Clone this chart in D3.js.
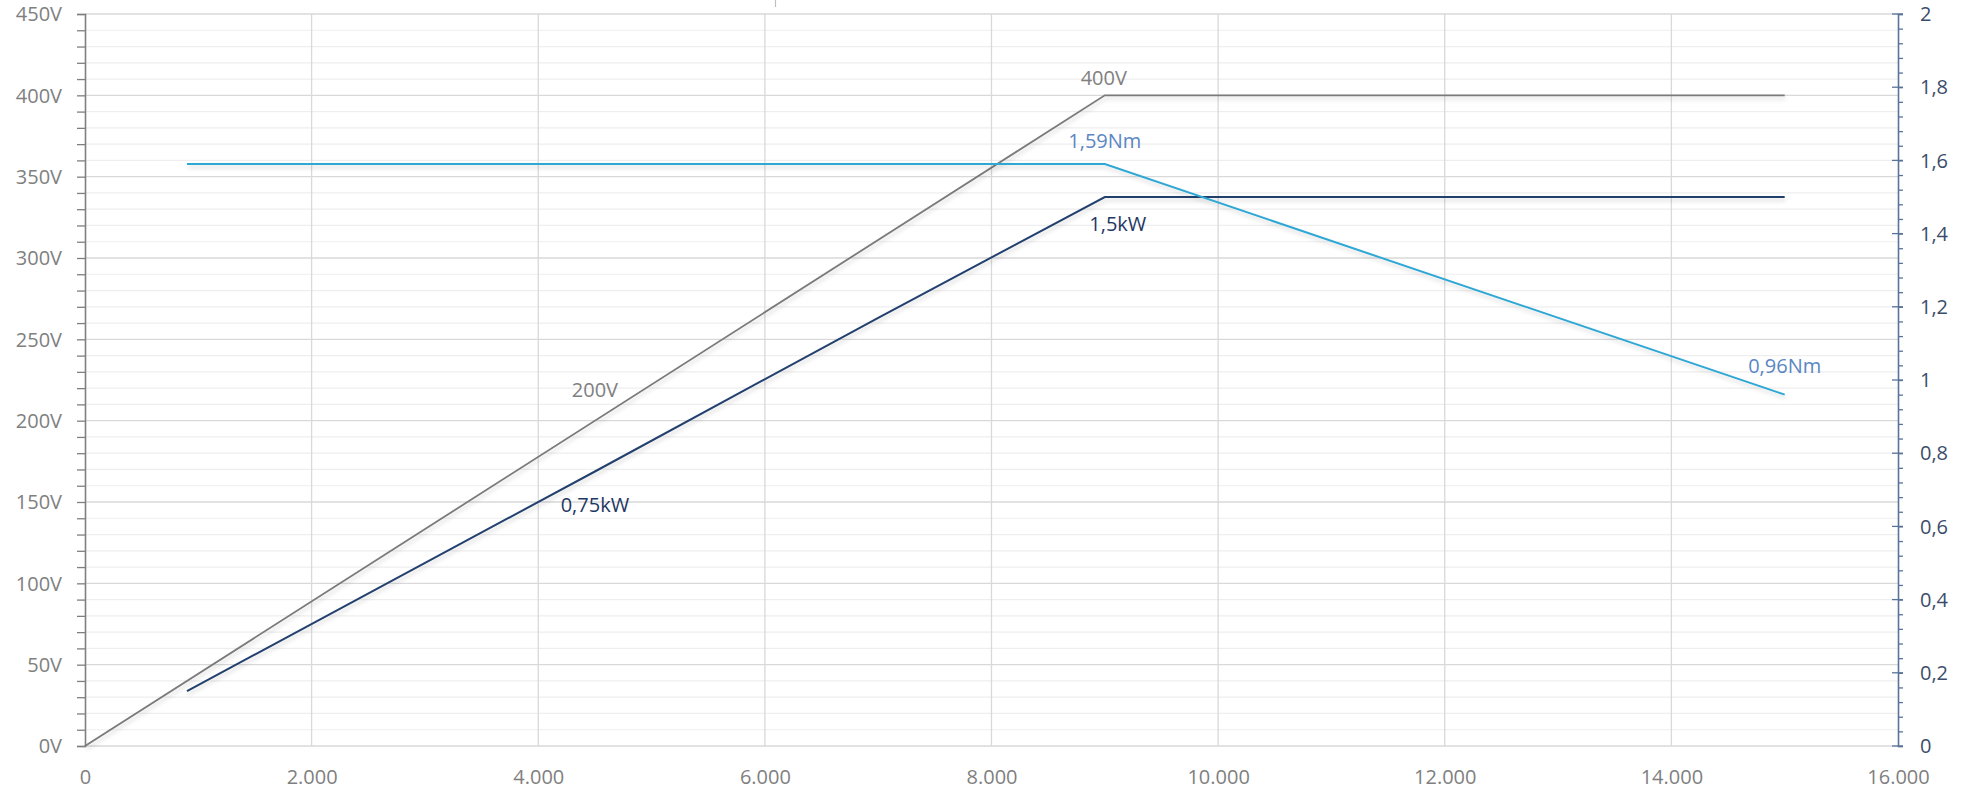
<!DOCTYPE html>
<html><head><meta charset="utf-8">
<script src="https://cdn.jsdelivr.net/npm/d3@7/dist/d3.min.js"></script>
<style>
html,body{margin:0;padding:0;background:#fff;}
svg{display:block;}
text{font-family:"Open Sans","Noto Sans",sans-serif;}
</style></head>
<body>
<svg id="chart" width="1966" height="795"></svg>
<script>
// ---- data ----
const speedTicks = [0, 2000, 4000, 6000, 8000, 10000, 12000, 14000, 16000];
const voltTicks = [0, 50, 100, 150, 200, 250, 300, 350, 400, 450];
const rightTicks = [0, 0.2, 0.4, 0.6, 0.8, 1, 1.2, 1.4, 1.6, 1.8, 2];

const voltageSpeed = [0, 9000, 15000];
const voltageValue = [0, 400, 400];

const powerSpeed = [900, 4500, 7000, 9000, 15000];
const powerValue = [0.15, 0.75, 1.17, 1.5, 1.5];

const torqueSpeed = [900, 9000, 15000];
const torqueValue = [1.59, 1.59, 0.96];

const labelTexts = ["200V", "400V", "0,75kW", "1,5kW", "1,59Nm", "0,96Nm"];
const labelSpeed = [4500, 9000, 4500, 9000, 9000, 15000];
const labelValue = [200, 400, 0.75, 1.5, 1.59, 0.96];
const labelAxis  = ["L", "L", "R", "R", "R", "R"];

// ---- drawing ----
const svg = d3.select("#chart");
const locale = d3.formatLocale({decimal: ",", thousands: ".", grouping: [3], currency: ["", ""]});
const fmtX = locale.format(",.0f");
const fmtR = v => locale.format(",")(+v.toFixed(1));
const FS = 20;

const x = d3.scaleLinear().domain([0, 16000]).range([85, 1898]);
const yL = d3.scaleLinear().domain([0, 450]).range([746, 14]);
const yR = d3.scaleLinear().domain([0, 2]).range([746, 14]);

const defs = svg.append("defs");
const f = defs.append("filter").attr("id", "shadow").attr("x", "-5%").attr("y", "-20%").attr("width", "110%").attr("height", "140%");
f.append("feDropShadow").attr("dx", 1).attr("dy", 3).attr("stdDeviation", 2).attr("flood-color", "#000").attr("flood-opacity", 0.16);

// minor horizontal gridlines (every 10V)
const minorV = d3.range(0, 451, 10);
svg.append("g").selectAll("line").data(minorV.filter(v => v % 50 !== 0)).join("line")
  .attr("x1", x(0)).attr("x2", x(16000)).attr("y1", d => yL(d)).attr("y2", d => yL(d))
  .attr("stroke", "#eeeeee").attr("stroke-width", 1.2);
// major horizontal gridlines
svg.append("g").selectAll("line").data(voltTicks).join("line")
  .attr("x1", x(0)).attr("x2", x(16000)).attr("y1", d => yL(d)).attr("y2", d => yL(d))
  .attr("stroke", "#d9d9d9").attr("stroke-width", 1.3);
// vertical gridlines
svg.append("g").selectAll("line").data(speedTicks.slice(1, -1)).join("line")
  .attr("x1", d => x(d)).attr("x2", d => x(d)).attr("y1", yL(450)).attr("y2", yL(0))
  .attr("stroke", "#d9d9d9").attr("stroke-width", 1.3);

// small artifact line at top
svg.append("line").attr("x1", 775.5).attr("x2", 775.5).attr("y1", 0).attr("y2", 7).attr("stroke", "#bfbfbf").attr("stroke-width", 1.2);

// left axis
const gL = svg.append("g").attr("transform", `translate(${x(0)},0)`);
gL.call(d3.axisLeft(yL).tickValues(minorV).tickSize(8).tickFormat(""));
gL.select(".domain").attr("stroke", "#7f7f7f").attr("stroke-width", 1.6);
gL.selectAll(".tick line").attr("stroke", "#7f7f7f").attr("stroke-width", 1.3);
gL.append("g").selectAll("text").data(voltTicks).join("text")
  .attr("x", -23).attr("y", d => yL(d)).attr("dy", "0.36em").attr("text-anchor", "end")
  .attr("fill", "#808080").attr("font-size", FS).text(d => d + "V");

// right axis
const minorR = d3.range(0, 51, 1).map(i => i * 0.04);
const gR = svg.append("g").attr("transform", `translate(${x(16000)},0)`);
gR.call(d3.axisRight(yR).tickValues(minorR).tickSize(5).tickFormat(""));
gR.select(".domain").attr("stroke", "#5a7399").attr("stroke-width", 1.6);
gR.selectAll(".tick line").attr("stroke", "#5a7399").attr("stroke-width", 1.3);
gR.append("g").selectAll("line").data(rightTicks).join("line")
  .attr("x1", -6).attr("x2", 5).attr("y1", d => yR(d)).attr("y2", d => yR(d))
  .attr("stroke", "#5a7399").attr("stroke-width", 1.3);
gR.append("g").selectAll("text").data(rightTicks).join("text")
  .attr("x", 22).attr("y", d => yR(d)).attr("dy", "0.36em").attr("text-anchor", "start")
  .attr("fill", "#3b4d6b").attr("font-size", FS).text(d => fmtR(d));

// bottom axis labels
const gB = svg.append("g").attr("transform", `translate(0,${yL(0)})`);
gB.call(d3.axisBottom(x).tickValues(speedTicks).tickSize(0).tickPadding(0).tickFormat(d => fmtX(d)));
gB.select(".domain").remove();
gB.selectAll("text").attr("fill", "#7f7f7f").attr("font-size", FS).attr("y", 38).attr("dy", 0)
  .style("font-family", '"Open Sans","Noto Sans",sans-serif');

// series lines
const lineL = d3.line().x(d => x(d[0])).y(d => yL(d[1]));
const lineR = d3.line().x(d => x(d[0])).y(d => yR(d[1]));
svg.append("path").datum(d3.zip(voltageSpeed, voltageValue)).attr("d", lineL)
  .attr("fill", "none").attr("stroke", "#7a7a7a").attr("stroke-width", 1.8).attr("filter", "url(#shadow)");
svg.append("path").datum(d3.zip(powerSpeed, powerValue)).attr("d", lineR)
  .attr("fill", "none").attr("stroke", "#24406e").attr("stroke-width", 2).attr("filter", "url(#shadow)");
svg.append("path").datum(d3.zip(torqueSpeed, torqueValue)).attr("d", lineR)
  .attr("fill", "none").attr("stroke", "#2fa7d4").attr("stroke-width", 2).attr("filter", "url(#shadow)");

// data labels
const labelColor = {"200V": "#808080", "400V": "#808080", "0,75kW": "#1f3864", "1,5kW": "#1f3864", "1,59Nm": "#5b86c4", "0,96Nm": "#5b86c4"};
const labelDx = [0, -1, 0, 13, 0, 0];
const labelDy = [-24, -10, 40, 34, -16, -22];
svg.append("g").selectAll("text").data(labelTexts).join("text")
  .attr("x", (d, i) => x(labelSpeed[i]) + labelDx[i])
  .attr("y", (d, i) => (labelAxis[i] === "L" ? yL(labelValue[i]) : yR(labelValue[i])) + labelDy[i])
  .attr("text-anchor", "middle").attr("font-size", FS)
  .attr("fill", d => labelColor[d]).text(d => d);
</script>
</body></html>
